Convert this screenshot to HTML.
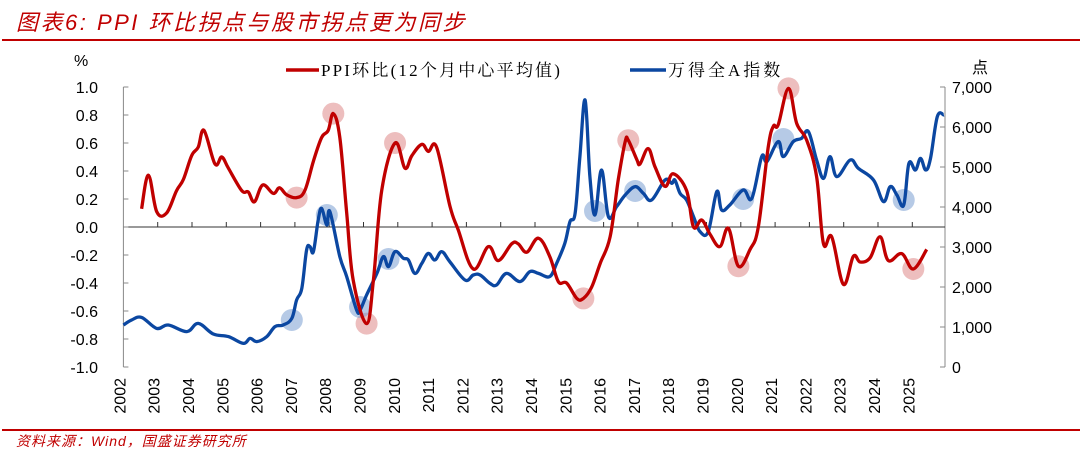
<!DOCTYPE html>
<html><head><meta charset="utf-8">
<style>
body{margin:0;background:#fff;width:1080px;height:458px;overflow:hidden;}
svg{display:block;}
</style></head>
<body>
<svg id="chart" width="1080" height="458" xmlns="http://www.w3.org/2000/svg">
<text x="16" y="30" fill="#C00000" font-size="22" font-style="italic" letter-spacing="2.5" font-family="'Liberation Sans','Noto Sans CJK SC',sans-serif">图表6:  PPI 环比拐点与股市拐点更为同步</text>
<rect x="2" y="39" width="1078" height="2" fill="#C00000"/>
<rect x="2" y="429" width="1078" height="2" fill="#C00000"/>
<text x="16" y="446" fill="#C00000" font-size="14" font-style="italic" letter-spacing="1" font-family="'Liberation Sans','Noto Sans CJK SC',sans-serif">资料来源：Wind，国盛证券研究所</text>
<text x="74" y="66" font-size="16" font-family="'Liberation Sans',sans-serif">%</text>
<text x="972" y="73" font-size="16" font-family="'Liberation Sans','Noto Sans CJK SC',sans-serif">点</text>
<g>
<line x1="286" y1="70" x2="319" y2="70" stroke="#C00000" stroke-width="3.5"/>
<text x="321" y="76" font-size="17" letter-spacing="2.2" font-family="'Liberation Serif','Noto Serif CJK SC',serif">PPI环比(12个月中心平均值)</text>
<line x1="630" y1="70" x2="666" y2="70" stroke="#0B47A1" stroke-width="3.5"/>
<text x="668" y="76" font-size="17" letter-spacing="3" font-family="'Liberation Serif','Noto Serif CJK SC',serif">万得全A指数</text>
</g>
<g id="axes"></g>
<g id="marks"></g>
</svg>
<script>
const years = [2002,2003,2004,2005,2006,2007,2008,2009,2010,2011,2012,2013,2014,2015,2016,2017,2018,2019,2020,2021,2022,2023,2024,2025];
const leftTicks = [1.0,0.8,0.6,0.4,0.2,0.0,-0.2,-0.4,-0.6,-0.8,-1.0];
const rightTicks = [0,1000,2000,3000,4000,5000,6000,7000];
const ppiDates = [2002.53,2002.73,2002.97,2003.26,2003.55,2003.75,2003.99,2004.18,2004.35,2004.67,2004.87,2005.06,2005.45,2005.64,2005.82,2006.06,2006.37,2006.55,2006.76,2007.05,2007.29,2007.54,2007.78,2007.97,2008.12,2008.31,2008.51,2008.70,2009.09,2009.29,2009.53,2009.92,2010.21,2010.41,2010.70,2010.89,2011.13,2011.52,2011.76,2012.20,2012.64,2012.93,2013.32,2013.51,2013.76,2014.10,2014.43,2014.68,2014.92,2015.22,2015.41,2015.65,2015.90,2016.19,2016.43,2016.63,2016.72,2016.97,2017.06,2017.30,2017.50,2017.79,2018.03,2018.42,2018.62,2018.86,2019.10,2019.39,2019.64,2019.93,2020.27,2020.51,2020.80,2020.95,2021.09,2021.39,2021.63,2021.92,2022.21,2022.41,2022.65,2022.99,2023.28,2023.48,2023.77,2024.06,2024.30,2024.69,2025.03,2025.42];
const ppiValues = [0.13,0.37,0.11,0.10,0.26,0.34,0.51,0.57,0.69,0.45,0.50,0.42,0.26,0.25,0.18,0.30,0.24,0.28,0.23,0.21,0.26,0.47,0.64,0.69,0.81,0.64,0.10,-0.38,-0.69,-0.38,0.26,0.60,0.42,0.51,0.59,0.54,0.57,0.15,-0.02,-0.30,-0.14,-0.24,-0.12,-0.12,-0.18,-0.08,-0.21,-0.39,-0.40,-0.51,-0.51,-0.43,-0.26,-0.07,0.34,0.61,0.62,0.48,0.45,0.56,0.43,0.29,0.38,0.26,0.00,0.05,-0.05,-0.14,-0.01,-0.28,-0.16,0.00,0.57,0.72,0.73,0.99,0.74,0.62,0.36,-0.12,-0.07,-0.41,-0.21,-0.25,-0.22,-0.07,-0.24,-0.19,-0.30,-0.16];
const idxDates = [2002.0,2002.24,2002.53,2002.97,2003.31,2003.85,2004.18,2004.62,2005.06,2005.50,2005.69,2005.89,2006.18,2006.42,2006.66,2006.91,2007.05,2007.20,2007.34,2007.44,2007.54,2007.68,2007.78,2007.93,2008.02,2008.31,2008.51,2008.80,2008.90,2009.09,2009.39,2009.58,2009.73,2009.92,2010.16,2010.31,2010.50,2010.70,2010.89,2011.08,2011.28,2011.52,2011.96,2012.20,2012.40,2012.69,2012.88,2013.17,2013.56,2013.85,2014.10,2014.43,2014.63,2014.87,2015.02,2015.17,2015.31,2015.46,2015.60,2015.75,2015.94,2016.14,2016.38,2016.63,2016.92,2017.16,2017.40,2017.79,2017.99,2018.08,2018.23,2018.42,2018.62,2018.81,2019.05,2019.30,2019.44,2019.68,2020.07,2020.32,2020.61,2020.76,2021.09,2021.24,2021.53,2021.77,2021.97,2022.21,2022.41,2022.60,2022.80,2023.19,2023.43,2023.87,2024.16,2024.36,2024.55,2024.75,2024.90,2025.09,2025.24,2025.39,2025.53,2025.73,2025.92];
const idxValues = [1050,1175,1240,965,1050,885,1090,825,760,590,715,635,760,1010,1050,1215,1675,1965,2925,3010,2885,3675,3965,3550,3885,2760,2260,1425,1425,1800,2340,2760,2510,2885,2720,2675,2340,2590,2840,2675,2885,2630,2175,2300,2300,2090,2050,2340,2135,2385,2340,2260,2590,3090,3635,3840,5260,6675,4760,3800,4925,3760,4010,4300,4510,4340,4175,4675,4590,4675,4340,4175,3760,3385,3385,4385,3925,4050,4425,4215,5260,5135,5635,5260,5635,5715,5885,5175,4715,5260,4760,5175,4965,4675,4135,4510,4300,4050,5090,4925,5215,4925,5215,6260,6300];
const ppiMarkDates = [2007.05,2008.12,2009.09,2009.92,2015.41,2016.72,2019.93,2021.39,2025.03];
const ppiMarkValues = [0.21,0.81,-0.69,0.60,-0.51,0.62,-0.28,0.99,-0.30];
const idxMarkDates = [2006.91,2007.93,2008.90,2009.73,2015.75,2016.92,2020.07,2021.24,2024.75];
const idxMarkValues = [1175,3800,1500,2700,3900,4400,4200,5700,4175];

const X0 = 123.4, XSTEP = 34.3, YTOP = 87, YBOT = 367;
const xs = d => X0 + (d - 2002) * XSTEP;
const yl = v => YTOP + (1 - v) / 2 * (YBOT - YTOP);
const yr = v => YBOT - v / 7000 * (YBOT - YTOP);
const NS = 'http://www.w3.org/2000/svg';
function mk(tag, parent, attrs) {
  const e = document.createElementNS(NS, tag);
  for (const k in attrs) e.setAttribute(k, attrs[k]);
  parent.appendChild(e);
  return e;
}
function smooth(pts) {
  let d = 'M' + pts[0][0].toFixed(1) + ',' + pts[0][1].toFixed(1);
  for (let i = 0; i < pts.length - 1; i++) {
    const p0 = pts[i - 1] || pts[i], p1 = pts[i], p2 = pts[i + 1], p3 = pts[i + 2] || p2;
    const t = 0.18;
    const c1x = p1[0] + (p2[0] - p0[0]) * t, c1y = p1[1] + (p2[1] - p0[1]) * t;
    const c2x = p2[0] - (p3[0] - p1[0]) * t, c2y = p2[1] - (p3[1] - p1[1]) * t;
    d += 'C' + c1x.toFixed(1) + ',' + c1y.toFixed(1) + ' ' + c2x.toFixed(1) + ',' + c2y.toFixed(1) + ' ' + p2[0].toFixed(1) + ',' + p2[1].toFixed(1);
  }
  return d;
}
const axes = document.getElementById('axes');
const marks = document.getElementById('marks');
const FONT = "'Liberation Sans',sans-serif";

let a = mk('line', axes, {x1:X0,y1:YTOP,x2:X0,y2:YBOT,stroke:'#888','stroke-width':1});


a = mk('line', axes, {x1:945,y1:YTOP,x2:945,y2:YBOT,stroke:'#888','stroke-width':1});


a = mk('line', axes, {x1:X0,y1:yl(0),x2:945,y2:yl(0),stroke:'#333','stroke-width':1});



leftTicks.forEach(v => {
  const y = yl(v);
  const t = mk('line', axes, {x1:X0,y1:y,x2:X0+5,y2:y,stroke:'#888'});
  
  
  const l = mk('text', axes, {x:98,y:y+6,'text-anchor':'end','font-size':16,'font-family':FONT});
  l.textContent = v.toFixed(1);
  
  
});
rightTicks.forEach(v => {
  const y = yr(v);
  const t = mk('line', axes, {x1:940,y1:y,x2:945,y2:y,stroke:'#888'});
  
  
  const l = mk('text', axes, {x:952,y:y+6,'font-size':16,'font-family':FONT});
  l.textContent = v.toLocaleString('en-US');
  
  
});
years.forEach(yv => {
  const x = xs(yv);
  if (yv > 2002) {
    const t = mk('line', axes, {x1:x,y1:yl(0),x2:x,y2:yl(0)-5,stroke:'#333'});
    
    
  }
  const l = mk('text', axes, {x:0,y:0,'text-anchor':'end','font-size':16,'font-family':FONT,transform:`translate(${x+2},378) rotate(-90)`});
  l.textContent = yv;
  
  
});

ppiMarkDates.forEach((d, i) => {
  const c = mk('circle', marks, {cx:xs(d),cy:yl(ppiMarkValues[i]),r:11,fill:'rgba(214,110,110,0.45)'});
  
  
});
idxMarkDates.forEach((d, i) => {
  const c = mk('circle', marks, {cx:xs(d),cy:yr(idxMarkValues[i]),r:11,fill:'rgba(110,150,205,0.5)'});
  
  
});

const idxPath = mk('path', marks, {d: smooth(idxDates.map((d,i)=>[xs(d), yr(idxValues[i])])), fill:'none', stroke:'#0B47A1','stroke-width':3.3,'stroke-linejoin':'round'});


const ppiPath = mk('path', marks, {d: smooth(ppiDates.map((d,i)=>[xs(d), yl(ppiValues[i])])), fill:'none', stroke:'#C00000','stroke-width':3.3,'stroke-linejoin':'round'});


</script>
</body></html>
